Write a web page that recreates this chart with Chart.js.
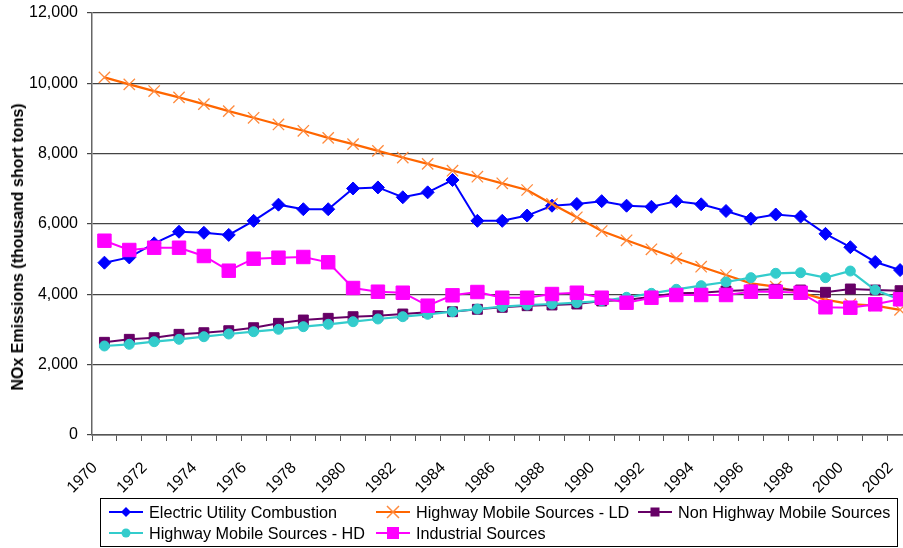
<!DOCTYPE html>
<html>
<head>
<meta charset="utf-8">
<script src="https://cdn.jsdelivr.net/npm/chart.js@4.4.1/dist/chart.umd.min.js"></script>
<style>
  html, body { margin: 0; padding: 0; background: #fff; overflow: hidden; width: 903px; height: 548px; }
  #wrap { position: absolute; left: 0; top: 0; width: 923px; height: 548px; }
  #ytitle { position: absolute; left: 18px; top: 247px; transform: translate(-50%, -50%) rotate(-90deg);
    font: bold 16px "Liberation Sans", Arial, sans-serif; white-space: nowrap; color: #000; }
  #legend { position: absolute; left: 100px; top: 498px; width: 798px; height: 49px; border: 1px solid #000;
    font: 16.2px "Liberation Sans", Arial, sans-serif; color: #000; box-sizing: border-box; }
  .item { position: absolute; height: 20px; line-height: 20px; white-space: nowrap; }
  .item svg { position: absolute; left: -42px; top: 0; }
</style>
</head>
<body>
<div id="wrap"><canvas id="c" width="923" height="548"></canvas></div>
<div id="ytitle">NOx Emissions (thousand short tons)</div>
<div id="legend"></div>
<script>
const years = ['1970','1971','1972','1973','1974','1975','1976','1977','1978','1979','1980','1981','1982','1983','1984','1985','1986','1987','1988','1989','1990','1991','1992','1993','1994','1995','1996','1997','1998','1999','2000','2001','2002'];

const electricUtility = [4900,5050,5450,5780,5750,5690,6090,6550,6420,6420,7010,7040,6760,6900,7250,6090,6090,6240,6520,6570,6650,6520,6490,6650,6560,6370,6150,6270,6210,5720,5340,4920,4690];
const highwayLD = [10170,9970,9780,9600,9410,9210,9020,8830,8650,8450,8270,8080,7890,7710,7516,7345,7157,6967,6569,6190,5800,5536,5280,5024,4786,4550,4313,4218,4050,3850,3720,3680,3560];
const nonHighway = [2636,2721,2767,2863,2909,2966,3051,3176,3270,3318,3364,3392,3441,3489,3506,3574,3631,3677,3697,3725,3810,3839,3933,4029,4046,4095,4123,4143,4123,4058,4152,4123,4104];
const highwayHD = [2531,2579,2653,2721,2795,2872,2937,3006,3080,3148,3222,3299,3364,3432,3506,3583,3648,3697,3725,3762,3810,3916,4029,4143,4246,4351,4474,4598,4615,4474,4663,4123,3850];
const industrial = [5525,5261,5326,5326,5090,4672,5013,5042,5062,4911,4180,4075,4046,3677,3972,4066,3904,3904,4009,4046,3904,3762,3904,3981,3981,3981,4075,4075,4046,3631,3620,3716,3859];

const seriesNames = ['Electric Utility Combustion','Highway Mobile Sources - LD','Non Highway Mobile Sources','Highway Mobile Sources - HD','Industrial Sources'];

const FONT = '"Liberation Sans", Arial, sans-serif';

const datasets = [
  { label: seriesNames[0], data: electricUtility, borderColor: '#0000FF', backgroundColor: '#0000FF',
    pointStyle: 'rectRot', pointRadius: 6.5, borderWidth: 2, pointBorderWidth: 1, order: 5 },
  { label: seriesNames[1], data: highwayLD, borderColor: '#FF6600', backgroundColor: '#FF6600',
    pointBorderColor: '#FF8A3D', pointStyle: 'crossRot', pointRadius: 8, borderWidth: 2.2, pointBorderWidth: 1.3, order: 4 },
  { label: seriesNames[2], data: nonHighway, borderColor: '#660066', backgroundColor: '#660066',
    pointStyle: 'rect', pointRadius: 7, borderWidth: 2, pointBorderWidth: 1, order: 3 },
  { label: seriesNames[3], data: highwayHD, borderColor: '#33CCCC', backgroundColor: '#33CCCC',
    pointStyle: 'circle', pointRadius: 5, borderWidth: 2.2, pointBorderWidth: 1, order: 2 },
  { label: seriesNames[4], data: industrial, borderColor: '#FF00FF', backgroundColor: '#FF00FF',
    pointStyle: 'rect', pointRadius: 9.5, borderWidth: 2, pointBorderWidth: 1, order: 1 }
];
datasets.forEach(d => { d.tension = 0; d.fill = false; });

new Chart(document.getElementById('c'), {
  type: 'line',
  data: { labels: years, datasets },
  options: {
    responsive: false,
    animation: false,
    events: [],
    layout: { padding: { top: 13, left: 0, right: 0, bottom: 0 } },
    plugins: { legend: { display: false }, tooltip: { enabled: false } },
    scales: {
      x: {
        type: 'category',
        offset: true,
        grid: { display: true, drawOnChartArea: false, drawTicks: true, tickLength: 6, color: '#555', offset: true },
        border: { display: true, color: '#555', width: 1.5 },
        ticks: {
          autoSkip: false, maxRotation: 45, minRotation: 45, padding: 8, color: '#000',
          font: { family: FONT, size: 16 },
          callback: (v, i) => (i % 2 === 0 ? years[i] + '   ' : '')
        },
        afterFit: s => { s.height = 113; s.paddingLeft = 0; s.paddingRight = 0; }
      },
      y: {
        min: 0, max: 12000,
        grid: { color: '#444', lineWidth: 1.2, tickLength: 5, drawTicks: true },
        border: { display: true, color: '#666', width: 1.5 },
        ticks: {
          stepSize: 2000, padding: 9, color: '#000',
          font: { family: FONT, size: 16 },
          callback: v => v.toLocaleString('en-US')
        },
        afterFit: s => { s.width = 92; s.paddingTop = 0; s.paddingBottom = 0; }
      }
    }
  }
});

// HTML legend (markers drawn as small SVG icons)
const legendIcons = [
  '<line x1="2" y1="10" x2="36" y2="10" stroke="#0000FF" stroke-width="2"/><polygon points="19,5 24,10 19,15 14,10" fill="#0000FF"/>',
  '<line x1="2" y1="10" x2="36" y2="10" stroke="#FF6600" stroke-width="2"/><path d="M13,4 L25,16 M25,4 L13,16" stroke="#FF8A3D" stroke-width="1.5"/>',
  '<line x1="2" y1="10" x2="36" y2="10" stroke="#660066" stroke-width="2"/><rect x="14.5" y="5.5" width="9" height="9" fill="#660066"/>',
  '<line x1="2" y1="10" x2="36" y2="10" stroke="#33CCCC" stroke-width="2"/><circle cx="19" cy="10" r="4.5" fill="#33CCCC"/>',
  '<line x1="2" y1="10" x2="36" y2="10" stroke="#FF00FF" stroke-width="2"/><rect x="13" y="4" width="12" height="12" fill="#FF00FF"/>'
];
const legendPos = [[48, 13], [315, 13], [577, 34], [48, 34], [315, 34]];
legendPos[2] = [577, 13];
const lg = document.getElementById('legend');
seriesNames.forEach((name, i) => {
  const el = document.createElement('div');
  el.className = 'item';
  el.style.left = legendPos[i][0] + 'px';
  el.style.top = (legendPos[i][1] - 10) + 'px';
  el.innerHTML = '<svg width="38" height="20">' + legendIcons[i] + '</svg>' + name;
  lg.appendChild(el);
});
</script>
</body>
</html>
